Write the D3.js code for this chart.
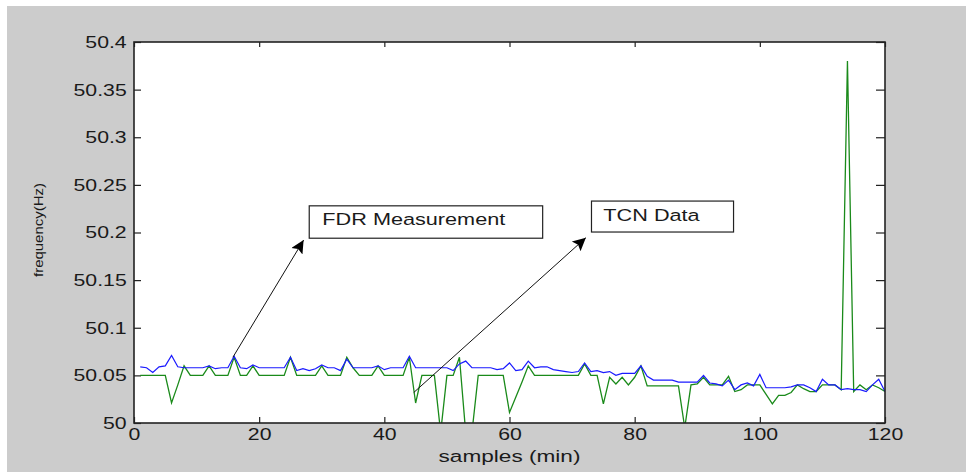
<!DOCTYPE html>
<html>
<head>
<meta charset="utf-8">
<script src="https://cdn.jsdelivr.net/npm/d3@7"></script>
<style>
  body { margin: 0; background: #fff; }
  svg text { font-family: 'Liberation Sans', Arial, sans-serif; }
</style>
</head>
<body>
<svg id="chart"></svg>
<script>
// samples 1..120
const samples = d3.range(1, 121);

// FDR measurement (blue)
const fdr = [
  50.059, 50.058, 50.053, 50.059, 50.060, 50.071, 50.059, 50.058, 50.058, 50.058,
  50.058, 50.060, 50.057, 50.058, 50.058, 50.070, 50.058, 50.057, 50.061, 50.058,
  50.058, 50.058, 50.058, 50.058, 50.069, 50.055, 50.057, 50.055, 50.057, 50.061,
  50.058, 50.058, 50.055, 50.067, 50.058, 50.058, 50.058, 50.058, 50.060, 50.056,
  50.058, 50.058, 50.058, 50.070, 50.058, 50.058, 50.058, 50.058, 50.058, 50.058,
  50.055, 50.062, 50.065, 50.058, 50.058, 50.058, 50.058, 50.056, 50.057, 50.063,
  50.055, 50.056, 50.065, 50.058, 50.059, 50.059, 50.056, 50.055, 50.054, 50.053,
  50.054, 50.063, 50.054, 50.055, 50.053, 50.054, 50.050, 50.052, 50.052, 50.052,
  50.060, 50.049, 50.045, 50.045, 50.045, 50.045, 50.043, 50.043, 50.043, 50.043,
  50.050, 50.042, 50.041, 50.039, 50.045, 50.035, 50.040, 50.042, 50.039, 50.051,
  50.037, 50.037, 50.037, 50.037, 50.038, 50.040, 50.040, 50.037, 50.033, 50.046,
  50.040, 50.040, 50.035, 50.036, 50.035, 50.035, 50.033, 50.040, 50.046, 50.033
];

// TCN data (green)
const tcn = [
  50.050, 50.050, 50.050, 50.050, 50.050, 50.021, 50.040, 50.060, 50.050, 50.050,
  50.050, 50.060, 50.050, 50.050, 50.050, 50.069, 50.050, 50.050, 50.060, 50.050,
  50.050, 50.050, 50.050, 50.050, 50.069, 50.050, 50.050, 50.050, 50.050, 50.060,
  50.050, 50.050, 50.050, 50.069, 50.058, 50.050, 50.050, 50.050, 50.060, 50.050,
  50.050, 50.050, 50.050, 50.069, 50.021, 50.050, 50.050, 50.050, 49.990, 50.050,
  50.050, 50.069, 49.990, 49.990, 50.050, 50.050, 50.050, 50.050, 50.050, 50.011,
  50.027, 50.043, 50.060, 50.050, 50.050, 50.050, 50.050, 50.050, 50.050, 50.050,
  50.050, 50.062, 50.050, 50.050, 50.020, 50.048, 50.041, 50.048, 50.040, 50.048,
  50.060, 50.039, 50.039, 50.039, 50.039, 50.039, 50.039, 49.995, 50.040, 50.041,
  50.048, 50.040, 50.040, 50.040, 50.049, 50.033, 50.035, 50.040, 50.040, 50.040,
  50.030, 50.020, 50.029, 50.029, 50.032, 50.040, 50.036, 50.033, 50.033, 50.040,
  50.040, 50.040, 50.035, 50.380, 50.033, 50.040, 50.035, 50.040, 50.037, 50.033
];

const xTicks = [0, 20, 40, 60, 80, 100, 120];
const yTicks = [50, 50.05, 50.1, 50.15, 50.2, 50.25, 50.3, 50.35, 50.4];
const yTickLabels = ['50', '50.05', '50.1', '50.15', '50.2', '50.25', '50.3', '50.35', '50.4'];

// annotations: text box corners and arrow (data units)
const notes = [
  { label: 'FDR Measurement', box: [28, 50.228, 65.3, 50.194], text: [30.1, 50.208],
    from: [15.8, 50.069], to: [27.1, 50.192] },
  { label: 'TCN Data', box: [73.1, 50.233, 95.8, 50.2005], text: [75.0, 50.2125],
    from: [44.7, 50.032], to: [72.2, 50.1945] }
];

const W = 966, H = 472;
const margin = { top: 42, right: 81, bottom: 49, left: 134 };
const iw = W - margin.left - margin.right;
const ih = H - margin.top - margin.bottom;
const sx = 1.33; // glyphs in the picture are stretched wide

const svg = d3.select('#chart').attr('width', W).attr('height', H);

svg.append('rect').attr('x', 7).attr('y', 6).attr('width', W - 7).attr('height', H - 6)
  .attr('fill', '#cccccc');

const g = svg.append('g').attr('transform', `translate(${margin.left},${margin.top})`);

g.append('rect').attr('width', iw).attr('height', ih).attr('fill', '#fff');

const x = d3.scaleLinear().domain([0, 120]).range([0, iw]);
const y = d3.scaleLinear().domain([50, 50.4]).range([ih, 0]);

svg.append('defs').append('clipPath').attr('id', 'clip')
  .append('rect').attr('width', iw).attr('height', ih);

svg.select('defs').append('marker')
  .attr('id', 'head').attr('viewBox', '0 0 10 10')
  .attr('refX', 10).attr('refY', 5)
  .attr('markerWidth', 16).attr('markerHeight', 13)
  .attr('markerUnits', 'userSpaceOnUse')
  .attr('orient', 'auto')
  .append('path').attr('d', 'M0,0 L10,5 L0,10 L2,5 z').attr('fill', '#000');

// axes, ticks pointing inward
function styleAxis(sel) {
  sel.select('.domain').remove();
  sel.selectAll('line').attr('stroke', '#222').attr('stroke-width', 1.2);
}

g.append('g').attr('transform', `translate(0,${ih})`)
  .call(d3.axisBottom(x).tickValues(xTicks).tickSizeInner(-6).tickSizeOuter(0))
  .call(styleAxis)
  .call(a => a.selectAll('text')
    .attr('y', 17).attr('dy', 0).attr('x', 0)
    .attr('transform', `scale(${sx},1)`)
    .attr('font-size', 16).attr('fill', '#1a1a1a'));

g.append('g')
  .call(d3.axisTop(x).tickValues(xTicks).tickSizeInner(-5).tickSizeOuter(0).tickFormat(''))
  .call(styleAxis);

g.append('g')
  .call(d3.axisLeft(y).tickValues(yTicks).tickSizeInner(-7).tickSizeOuter(0)
    .tickFormat((d, i) => yTickLabels[i]))
  .call(styleAxis)
  .call(a => a.selectAll('text')
    .attr('x', -7.3 / sx).attr('dy', '0.34em')
    .attr('transform', `scale(${sx},1)`)
    .attr('font-size', 16).attr('fill', '#1a1a1a'));

g.append('g').attr('transform', `translate(${iw},0)`)
  .call(d3.axisRight(y).tickValues(yTicks).tickSizeInner(-9).tickSizeOuter(0).tickFormat(''))
  .call(styleAxis);

// series
const line = d3.line().x((d, i) => x(samples[i])).y(d => y(d));
const plot = g.append('g').attr('clip-path', 'url(#clip)');

plot.append('path').datum(tcn)
  .attr('d', line).attr('fill', 'none')
  .attr('stroke', '#1a8a1a').attr('stroke-width', 1.3);

plot.append('path').datum(fdr)
  .attr('d', line).attr('fill', 'none')
  .attr('stroke', '#1a1aff').attr('stroke-width', 1.2);

// frame
g.append('rect').attr('width', iw).attr('height', ih)
  .attr('fill', 'none').attr('stroke', '#222').attr('stroke-width', 1.6);

// annotations
notes.forEach(n => {
  g.append('rect')
    .attr('x', x(n.box[0])).attr('y', y(n.box[1]))
    .attr('width', x(n.box[2]) - x(n.box[0]))
    .attr('height', y(n.box[3]) - y(n.box[1]))
    .attr('fill', '#fff').attr('stroke', '#222').attr('stroke-width', 1.2);
  g.append('text')
    .attr('x', x(n.text[0]) / sx).attr('y', y(n.text[1]))
    .attr('transform', `scale(${sx},1)`)
    .attr('font-size', 16.3).attr('fill', '#1a1a1a')
    .text(n.label);
  g.append('line')
    .attr('x1', x(n.from[0])).attr('y1', y(n.from[1]))
    .attr('x2', x(n.to[0])).attr('y2', y(n.to[1]))
    .attr('stroke', '#111').attr('stroke-width', 1)
    .attr('marker-end', 'url(#head)');
});

// axis titles
svg.append('text')
  .attr('x', (margin.left + iw / 2) / sx).attr('y', 462)
  .attr('transform', `scale(${sx},1)`)
  .attr('text-anchor', 'middle').attr('font-size', 17).attr('fill', '#1a1a1a')
  .text('samples (min)');

svg.append('text')
  .attr('transform', 'translate(43,230) rotate(-90)')
  .attr('text-anchor', 'middle').attr('font-size', 13).attr('fill', '#1a1a1a')
  .attr('textLength', 94).attr('lengthAdjust', 'spacingAndGlyphs')
  .text('frequency(Hz)');
</script>
</body>
</html>
